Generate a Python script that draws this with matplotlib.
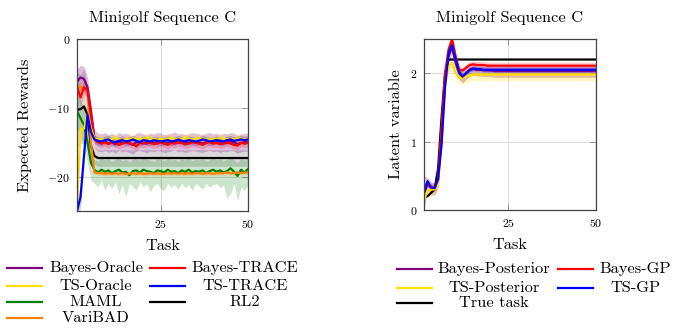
import numpy as np
import matplotlib
matplotlib.use("Agg")
import matplotlib.pyplot as plt
from matplotlib.lines import Line2D

plt.rcParams['font.family'] = ['cmr10', 'DejaVu Serif']
plt.rcParams['mathtext.fontset'] = 'cm'
plt.rcParams['axes.formatter.use_mathtext'] = True

tasks = np.arange(1, 51)

# ---- Left chart: expected rewards ----
bayes_oracle = [-6.2, -5.6, -5.8, -7.0, -10.5, -14.5, -15.0, -15.1, -14.9, -15.2, -15.0, -15.3, -14.9, -15.1, -15.0,
                -15.2, -15.4, -15.0, -14.9, -15.1, -15.2, -15.0, -15.1, -14.9, -15.0, -15.2, -15.1, -15.0, -14.8, -15.1,
                -15.0, -15.2, -15.1, -14.9, -15.0, -15.1, -15.2, -15.0, -14.9, -15.1, -15.0, -15.2, -15.0, -15.1, -14.9,
                -15.0, -15.3, -15.1, -15.0, -15.0]
bayes_trace = [-7.0, -8.5, -7.0, -7.5, -11.0, -14.6, -15.0, -15.2, -15.0, -15.3, -14.9, -15.1, -15.4, -15.2, -15.0,
               -15.1, -15.3, -15.6, -15.1, -15.2, -15.0, -15.1, -15.3, -15.2, -15.0, -15.2, -15.4, -15.1, -15.2, -15.0,
               -15.1, -15.3, -15.2, -15.0, -15.1, -15.2, -15.4, -15.1, -15.0, -15.2, -15.1, -15.3, -15.2, -15.0, -15.2,
               -15.4, -15.5, -15.1, -15.2, -15.1]
ts_oracle = [-25.0, -13.2, -13.0, -11.0, -13.0, -14.4, -14.6, -14.5, -14.7, -14.6, -14.5, -14.4, -14.6, -14.7, -14.5,
             -14.6, -14.4, -14.5, -14.6, -14.5, -14.3, -14.6, -14.5, -14.7, -14.5, -14.6, -14.5, -14.4, -14.6, -14.5,
             -14.6, -14.3, -14.5, -14.6, -14.5, -14.4, -14.6, -14.5, -14.7, -14.5, -14.6, -14.4, -14.5, -14.6, -14.5,
             -14.6, -14.4, -14.5, -14.6, -14.5]
ts_trace = [-25.0, -23.0, -17.0, -11.0, -13.5, -14.6, -14.8, -14.9, -14.7, -14.6, -14.9, -15.0, -14.8, -14.7, -14.9,
            -14.8, -14.6, -14.8, -15.0, -14.7, -14.8, -14.9, -14.7, -14.8, -14.9, -14.8, -14.7, -14.9, -14.8, -14.6,
            -14.8, -14.9, -14.7, -14.8, -14.9, -14.8, -14.6, -14.7, -14.9, -14.8, -14.7, -14.8, -14.9, -14.7, -14.6,
            -14.8, -14.7, -14.6, -14.7, -14.6]
maml = [-10.5, -11.5, -12.5, -15.0, -18.0, -19.0, -19.4, -19.0, -19.3, -19.1, -19.5, -19.2, -19.0, -19.4, -19.3,
        -19.8, -19.2, -19.1, -19.4, -19.0, -19.2, -19.3, -19.5, -19.1, -19.2, -19.4, -19.0, -19.3, -19.2, -19.5,
        -19.1, -19.3, -19.0, -19.4, -19.2, -19.3, -19.1, -19.5, -19.2, -19.0, -19.3, -19.1, -19.4, -19.2, -18.8,
        -19.3, -19.9, -19.0, -19.4, -18.9]
maml_lo = [-13.0, -14.0, -15.5, -18.0, -20.5, -21.0, -21.5, -20.5, -22.0, -21.0, -21.8, -20.8, -22.5, -21.2, -23.0,
           -21.0, -21.5, -22.0, -20.8, -21.5, -21.0, -22.2, -21.3, -21.0, -21.8, -22.0, -21.0, -21.5, -21.2, -21.8,
           -21.0, -21.6, -21.2, -22.0, -21.0, -21.4, -21.8, -21.0, -21.5, -21.2, -21.0, -21.6, -21.2, -23.2, -22.5,
           -21.0, -23.5, -21.5, -22.0, -21.2]
maml_hi = [-8.0, -9.0, -10.0, -12.5, -16.5, -17.5, -17.8, -17.2, -17.6, -17.4, -17.8, -17.5, -17.3, -17.7, -17.5,
           -17.9, -17.5, -17.4, -17.6, -17.2, -17.5, -17.6, -17.8, -17.4, -17.5, -17.7, -17.3, -17.6, -17.5, -17.8,
           -17.4, -17.6, -17.3, -17.7, -17.5, -17.6, -17.4, -17.8, -17.5, -17.3, -17.6, -17.4, -17.7, -17.5, -17.1,
           -17.6, -18.0, -17.3, -17.7, -17.2]
varibad = [-7.0, -7.0, -7.1, -7.5, -15.0, -19.4, -19.5, -19.5, -19.6, -19.5, -19.6, -19.5, -19.6, -19.5, -19.6,
           -19.6, -19.5, -19.6, -19.5, -19.6, -19.6, -19.5, -19.6, -19.5, -19.6, -19.6, -19.5, -19.6, -19.5, -19.6,
           -19.5, -19.6, -19.5, -19.6, -19.5, -19.5, -19.6, -19.5, -19.5, -19.6, -19.5, -19.5, -19.5, -19.4, -19.5,
           -19.5, -19.4, -19.5, -19.4, -19.4]
rl2 = [-10.3, -10.2, -9.8, -11.0, -15.5, -17.0, -17.3, -17.3, -17.3, -17.3, -17.3, -17.3, -17.3, -17.3, -17.3,
       -17.3, -17.3, -17.3, -17.3, -17.3, -17.3, -17.3, -17.3, -17.3, -17.3, -17.3, -17.3, -17.3, -17.3, -17.3,
       -17.3, -17.3, -17.3, -17.3, -17.3, -17.3, -17.3, -17.3, -17.3, -17.3, -17.3, -17.3, -17.3, -17.3, -17.3,
       -17.3, -17.3, -17.3, -17.3, -17.3]
spread_early = [5.5, 5.0, 5.5, 4.0, 2.5]

# ---- Right chart: latent variable ----
bayes_post = [0.25, 0.38, 0.32, 0.31, 0.42, 1.1, 1.9, 2.25, 2.38, 2.15, 2.0, 1.95, 2.0, 2.04, 2.06, 2.05, 2.05, 2.04,
              2.04, 2.04, 2.03, 2.03, 2.03, 2.03, 2.03, 2.03, 2.03, 2.03, 2.03, 2.03, 2.03, 2.03, 2.03, 2.03, 2.03,
              2.03, 2.03, 2.03, 2.03, 2.03, 2.03, 2.03, 2.03, 2.03, 2.03, 2.03, 2.03, 2.03, 2.03, 2.03]
bayes_gp = [0.28, 0.4, 0.33, 0.32, 0.45, 1.2, 2.0, 2.35, 2.5, 2.25, 2.05, 2.04, 2.08, 2.12, 2.13, 2.12, 2.12, 2.12,
            2.11, 2.11, 2.11, 2.11, 2.11, 2.11, 2.11, 2.11, 2.11, 2.11, 2.11, 2.11, 2.11, 2.11, 2.11, 2.11, 2.11,
            2.11, 2.11, 2.11, 2.11, 2.11, 2.11, 2.11, 2.11, 2.11, 2.11, 2.11, 2.11, 2.11, 2.11, 2.11]
ts_post = [0.15, 0.28, 0.3, 0.3, 0.38, 1.0, 1.85, 2.1, 2.15, 2.0, 1.93, 1.93, 1.95, 1.97, 1.98, 1.98, 1.98, 1.98,
           1.98, 1.98, 1.98, 1.98, 1.98, 1.98, 1.98, 1.98, 1.98, 1.98, 1.98, 1.98, 1.98, 1.98, 1.98, 1.98, 1.98,
           1.98, 1.98, 1.98, 1.98, 1.98, 1.98, 1.98, 1.98, 1.98, 1.98, 1.98, 1.98, 1.98, 1.98, 1.98]
ts_gp = [0.25, 0.42, 0.33, 0.32, 0.45, 0.95, 1.8, 2.3, 2.41, 2.2, 2.02, 1.95, 2.0, 2.05, 2.07, 2.06, 2.06, 2.05,
         2.05, 2.05, 2.05, 2.05, 2.05, 2.05, 2.05, 2.05, 2.05, 2.05, 2.05, 2.05, 2.05, 2.05, 2.05, 2.05, 2.05,
         2.05, 2.05, 2.05, 2.05, 2.05, 2.05, 2.05, 2.05, 2.05, 2.05, 2.05, 2.05, 2.05, 2.05, 2.05]
true_task = [0.2, 0.2, 0.25, 0.3, 0.6, 1.35, 2.0, 2.2, 2.2, 2.2, 2.2, 2.2, 2.2, 2.2, 2.2, 2.2, 2.2, 2.2, 2.2, 2.2,
             2.2, 2.2, 2.2, 2.2, 2.2, 2.2, 2.2, 2.2, 2.2, 2.2, 2.2, 2.2, 2.2, 2.2, 2.2, 2.2, 2.2, 2.2, 2.2, 2.2,
             2.2, 2.2, 2.2, 2.2, 2.2, 2.2, 2.2, 2.2, 2.2, 2.2]

left_labels = ['Bayes-Oracle', 'Bayes-TRACE', 'TS-Oracle', 'TS-TRACE', 'MAML', 'RL2', 'VariBAD']
right_labels = ['Bayes-Posterior', 'Bayes-GP', 'TS-Posterior', 'TS-GP', 'True task']

C_PURPLE = '#800080'
C_RED = '#ff0000'
C_YELLOW = '#ffe000'
C_BLUE = '#0000ff'
C_GREEN = '#008000'
C_BLACK = '#000000'
C_ORANGE = '#ff8000'

FS = 11.8
W, H = 694, 328
fig = plt.figure(figsize=(W / 100, H / 100), dpi=100)


def px_rect(x0, y0, x1, y1):
    return [x0 / W, 1 - y1 / H, (x1 - x0) / W, (y1 - y0) / H]


axL = fig.add_axes(px_rect(77, 39, 248, 211))
axR = fig.add_axes(px_rect(424, 39, 596, 210))


def spread(base, early):
    s = np.full(50, base)
    s[:len(early)] = early
    return s


def band(ax, y, s, color, alpha=0.22):
    y = np.asarray(y)
    ax.fill_between(tasks, y - s, y + s, color=color, alpha=alpha, linewidth=0)


lw = 1.6
# bands
band(axL, rl2, spread(1.2, spread_early), '#808080', 0.3)
axL.fill_between(tasks, maml_lo, maml_hi, color=C_GREEN, alpha=0.2, linewidth=0)
band(axL, bayes_oracle, spread(1.3, [1.8, 1.8, 1.8, 1.5]), C_PURPLE, 0.25)
band(axL, bayes_trace, spread(0.6, [1.2, 1.2, 1.2]), C_RED, 0.2)
band(axL, ts_oracle, spread(0.6, [0.5, 1.5, 1.5]), C_YELLOW, 0.25)
band(axL, ts_trace, spread(0.6, [1.5, 1.5, 1.5]), C_BLUE, 0.2)
band(axL, varibad, spread(0.3, [0.8, 0.8]), C_ORANGE, 0.2)

axL.plot(tasks, maml, color=C_GREEN, lw=lw)
axL.plot(tasks, rl2, color=C_BLACK, lw=lw)
axL.plot(tasks, varibad, color=C_ORANGE, lw=lw)
axL.plot(tasks, bayes_oracle, color=C_PURPLE, lw=lw)
axL.plot(tasks, bayes_trace, color=C_RED, lw=lw)
axL.plot(tasks, ts_oracle, color=C_YELLOW, lw=lw)
axL.plot(tasks, ts_trace, color=C_BLUE, lw=lw)

band(axR, ts_post, spread(0.09, [0.1]), C_YELLOW, 0.25)
band(axR, bayes_post, spread(0.09, [0.25]), C_PURPLE, 0.25)
band(axR, bayes_gp, spread(0.05, [0.1]), C_RED, 0.2)
band(axR, ts_gp, spread(0.04, [0.1]), C_BLUE, 0.2)
axR.plot(tasks, true_task, color=C_BLACK, lw=lw)
axR.plot(tasks, bayes_post, color=C_PURPLE, lw=lw)
axR.plot(tasks, ts_post, color=C_YELLOW, lw=lw)
axR.plot(tasks, bayes_gp, color=C_RED, lw=lw)
axR.plot(tasks, ts_gp, color=C_BLUE, lw=lw)

for ax, ylim, yt, ylab, lp in [(axL, (-25, 0), [-20, -10, 0], 'Expected Rewards', 11),
                               (axR, (0, 2.5), [0, 1, 2], 'Latent variable', 5)]:
    ax.set_xlim(1, 50)
    ax.set_ylim(*ylim)
    ax.set_xticks([25, 50])
    ax.set_yticks(yt)
    ax.grid(True, color='#dddddd', lw=0.8)
    ax.set_axisbelow(True)
    ax.tick_params(direction='in', length=4, width=0.6, color='#888888', labelsize=8.5, top=True, right=True,
                   pad=5)
    for sp in ax.spines.values():
        sp.set_color('#444444')
        sp.set_linewidth(0.9)
    ax.set_title('Minigolf Sequence C', fontsize=FS, pad=12)
    ax.set_xlabel('Task', fontsize=FS, labelpad=7)
    ax.set_ylabel(ylab, fontsize=FS, labelpad=lp)


def leg_entry(x0, x1, y, tx, label, color):
    fig.add_artist(Line2D([x0 / W, x1 / W], [1 - y / H, 1 - y / H], color=color, lw=1.6,
                          transform=fig.transFigure))
    fig.text(tx / W, 1 - y / H, label, ha='center', va='center', fontsize=FS)


left_colors = [C_PURPLE, C_RED, C_YELLOW, C_BLUE, C_GREEN, C_BLACK, C_ORANGE]
rows_L = [268, 268, 286, 286, 302, 302, 318]
for i, (lab, col) in enumerate(zip(left_labels, left_colors)):
    if i % 2 == 0:
        leg_entry(7, 42, rows_L[i], 96, lab, col)
    else:
        leg_entry(150, 185, rows_L[i], 245, lab, col)

right_colors = [C_PURPLE, C_RED, C_YELLOW, C_BLUE, C_BLACK]
rows_R = [269, 269, 288, 288, 303]
for i, (lab, col) in enumerate(zip(right_labels, right_colors)):
    if i % 2 == 0:
        leg_entry(397, 432, rows_R[i], 494, lab, col)
    else:
        leg_entry(558, 593, rows_R[i], 635, lab, col)

fig.savefig('out.png', dpi=100)
